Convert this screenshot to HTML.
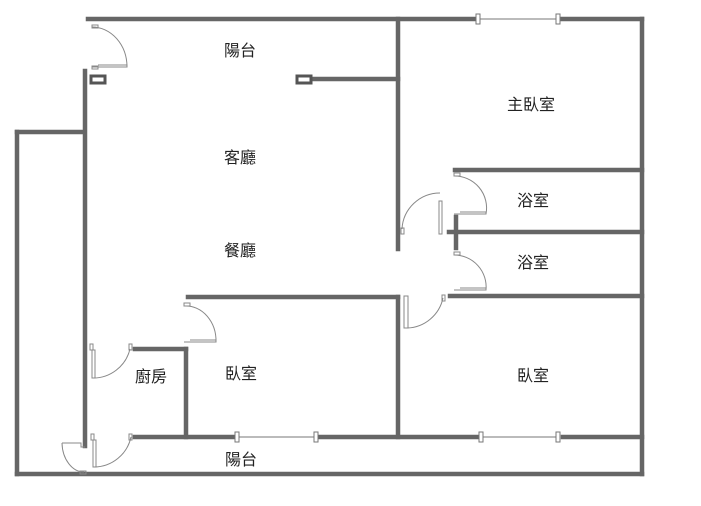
<!DOCTYPE html>
<html><head><meta charset="utf-8"><style>
html,body{margin:0;padding:0;background:#fff;}
svg{display:block}
text{font-family:"Liberation Sans","Noto Sans CJK TC",sans-serif;font-size:16px;fill:#222;text-anchor:middle;}
</style></head><body>
<svg width="701" height="506" viewBox="0 0 701 506" xmlns="http://www.w3.org/2000/svg">
<g stroke="#666" stroke-width="4.5" fill="none" stroke-linecap="square">
<line x1="88" y1="19" x2="476" y2="19"/>
<line x1="562" y1="19" x2="642" y2="19"/>
<line x1="642" y1="19" x2="642" y2="474"/>
<line x1="17" y1="474" x2="642" y2="474"/>
<line x1="17" y1="132" x2="17" y2="474"/>
<line x1="17" y1="132" x2="83" y2="132"/>
<line x1="85" y1="71" x2="85" y2="446"/>
<line x1="310" y1="79" x2="398" y2="79"/>
<line x1="398" y1="19" x2="398" y2="249"/>
<line x1="455" y1="170" x2="642" y2="170"/>
<line x1="449" y1="232" x2="642" y2="232"/>
<line x1="456" y1="217" x2="456" y2="248"/>
<line x1="450" y1="296" x2="642" y2="296"/>
<line x1="188" y1="297" x2="398" y2="297"/>
<line x1="398" y1="297" x2="398" y2="437"/>
<line x1="135" y1="349" x2="186" y2="349"/>
<line x1="186" y1="349" x2="186" y2="437"/>
<line x1="135" y1="437" x2="235" y2="437"/>
<line x1="320" y1="437" x2="478" y2="437"/>
<line x1="563" y1="437" x2="642" y2="437"/>
</g>
<g stroke="#777" stroke-width="1" fill="#fff">
<line x1="476" y1="19" x2="560" y2="19"/>
<rect x="476" y="14" width="4" height="10"/><rect x="556" y="14" width="4" height="10"/>
<line x1="236" y1="437" x2="318" y2="437"/>
<rect x="235" y="432" width="4" height="10"/><rect x="314" y="432" width="4" height="10"/>
<line x1="480" y1="437" x2="560" y2="437"/>
<rect x="479" y="432" width="4" height="10"/><rect x="556" y="432" width="4" height="10"/>
</g>
<g stroke="#555" stroke-width="3" fill="#fff">
<rect x="91" y="76" width="14" height="7"/>
<rect x="297" y="76" width="14" height="7"/>
</g>
<g stroke="#888" stroke-width="1" fill="none">
<path d="M92 27 A35 40 0 0 1 127 67"/><rect x="92" y="25" width="6" height="3"/><path d="M92 67 H127 V65 H98"/><rect x="92" y="66" width="6" height="3"/>
<path d="M402 229 A38 38 0 0 1 440 193"/><rect x="401" y="228" width="3" height="6"/><rect x="439" y="201" width="3" height="33"/>
<path d="M454 176 A32 32 0 0 1 486 214"/><rect x="454" y="173" width="6" height="3"/><path d="M454 214 H486 V212 H460"/>
<path d="M454 255 A32 32 0 0 1 486 290"/><rect x="454" y="252" width="6" height="3"/><path d="M454 290 H486 V288 H460"/>
<path d="M407 328 A38 38 0 0 0 443 298"/><rect x="404" y="296" width="4" height="32"/><rect x="442" y="295" width="3" height="6"/>
<path d="M185 306 A30 35 0 0 1 216 342"/><rect x="184" y="303" width="6" height="3"/><path d="M184 342 H216 V340 H190"/>
<path d="M92 378 A38 38 0 0 0 130 349"/><rect x="90" y="344" width="3" height="6"/><rect x="92" y="350" width="3" height="28"/><rect x="129" y="344" width="3" height="6"/>
<path d="M94 467 A38 38 0 0 0 131 437"/><rect x="91" y="434" width="3" height="6"/><rect x="93" y="440" width="3" height="27"/><rect x="129" y="434" width="3" height="6"/>
<path d="M62 443 A22 30 0 0 0 84 472"/><path d="M62 443 H81 V447 H85"/><rect x="80" y="471" width="6" height="3"/>
</g>
<text x="240" y="56">陽台</text>
<text x="240" y="163">客廳</text>
<text x="240" y="256">餐廳</text>
<text x="531" y="110">主臥室</text>
<text x="533" y="206">浴室</text>
<text x="533" y="268">浴室</text>
<text x="241" y="379">臥室</text>
<text x="151" y="382">廚房</text>
<text x="533" y="381">臥室</text>
<text x="241" y="465">陽台</text>
</svg>
</body></html>
